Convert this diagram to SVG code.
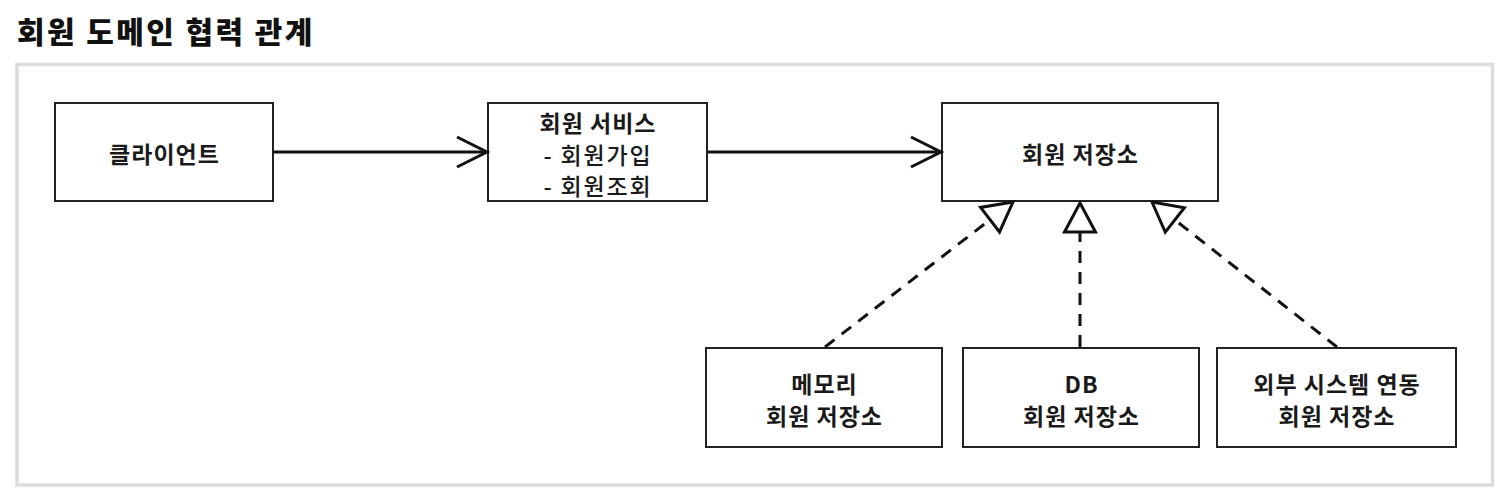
<svg xmlns="http://www.w3.org/2000/svg" width="1508" height="490" viewBox="0 0 1508 490">
<style>
.t{font-family:"Noto Sans CJK KR","Noto Sans",sans-serif;fill:#1a1a1a;text-anchor:middle;dominant-baseline:central;font-size:23px;letter-spacing:1px}
.b{font-weight:700}
.r{letter-spacing:1.8px;font-weight:500}
.h{font-weight:900;fill:#111}
.box{fill:#fff;stroke:#222;stroke-width:2}
.ln{stroke:#111;stroke-width:3;fill:none}
.dash{stroke-dasharray:12 9}
</style>
<defs>
<marker id="open" markerUnits="userSpaceOnUse" viewBox="-40 -20 45 40" markerWidth="45" markerHeight="40" refX="0" refY="0" orient="auto">
<path d="M-30,-15 L0,0 L-30,15" fill="none" stroke="#111" stroke-width="3"/>
</marker>
<marker id="tri" markerUnits="userSpaceOnUse" viewBox="-40 -20 45 40" markerWidth="45" markerHeight="40" refX="0" refY="0" orient="auto">
<path d="M0,0 L-29,-15.5 L-29,15.5 Z" fill="#fff" stroke="#111" stroke-width="3" stroke-linejoin="miter"/>
</marker>
</defs>
<rect x="0" y="0" width="1508" height="490" fill="#fff"/>
<text x="17" y="30" class="t h" style="text-anchor:start;font-size:30px;letter-spacing:2.4px">회원 도메인 협력 관계</text>
<rect x="17" y="64.5" width="1475.5" height="420.5" fill="#fff" stroke="#dcdcdc" stroke-width="3.5"/>

<g id="client">
<rect class="box" x="55" y="103" width="218" height="98"/>
<text class="t b" x="164.5" y="153">클라이언트</text>
</g>
<g id="service">
<rect class="box" x="488" y="103" width="219" height="98"/>
<text class="t b" x="598" y="122">회원 서비스</text>
<text class="t r" x="598" y="154">- 회원가입</text>
<text class="t r" x="598" y="185">- 회원조회</text>
</g>
<g id="repo">
<rect class="box" x="942" y="103" width="276" height="98"/>
<text class="t b" x="1080.5" y="153">회원 저장소</text>
</g>
<g id="memory">
<rect class="box" x="706" y="348" width="236" height="99"/>
<text class="t b" x="824.5" y="383">메모리</text>
<text class="t b" x="824.5" y="415">회원 저장소</text>
</g>
<g id="db">
<rect class="box" x="963" y="348" width="236" height="99"/>
<text class="t b" x="1081.5" y="383">DB</text>
<text class="t b" x="1081.5" y="415">회원 저장소</text>
</g>
<g id="external">
<rect class="box" x="1217" y="348" width="239" height="99"/>
<text class="t b" x="1337" y="383">외부 시스템 연동</text>
<text class="t b" x="1337" y="415">회원 저장소</text>
</g>

<g id="connectors">
<line class="ln" x1="274" y1="152" x2="487" y2="152" marker-end="url(#open)"/>
<line class="ln" x1="708" y1="152" x2="941" y2="152" marker-end="url(#open)"/>
<line class="ln dash" x1="825" y1="347" x2="1013" y2="202" marker-end="url(#tri)"/>
<line class="ln dash" x1="1080" y1="347" x2="1080" y2="203" marker-end="url(#tri)"/>
<line class="ln dash" x1="1337" y1="347" x2="1152" y2="202" marker-end="url(#tri)"/>
</g>
</svg>
